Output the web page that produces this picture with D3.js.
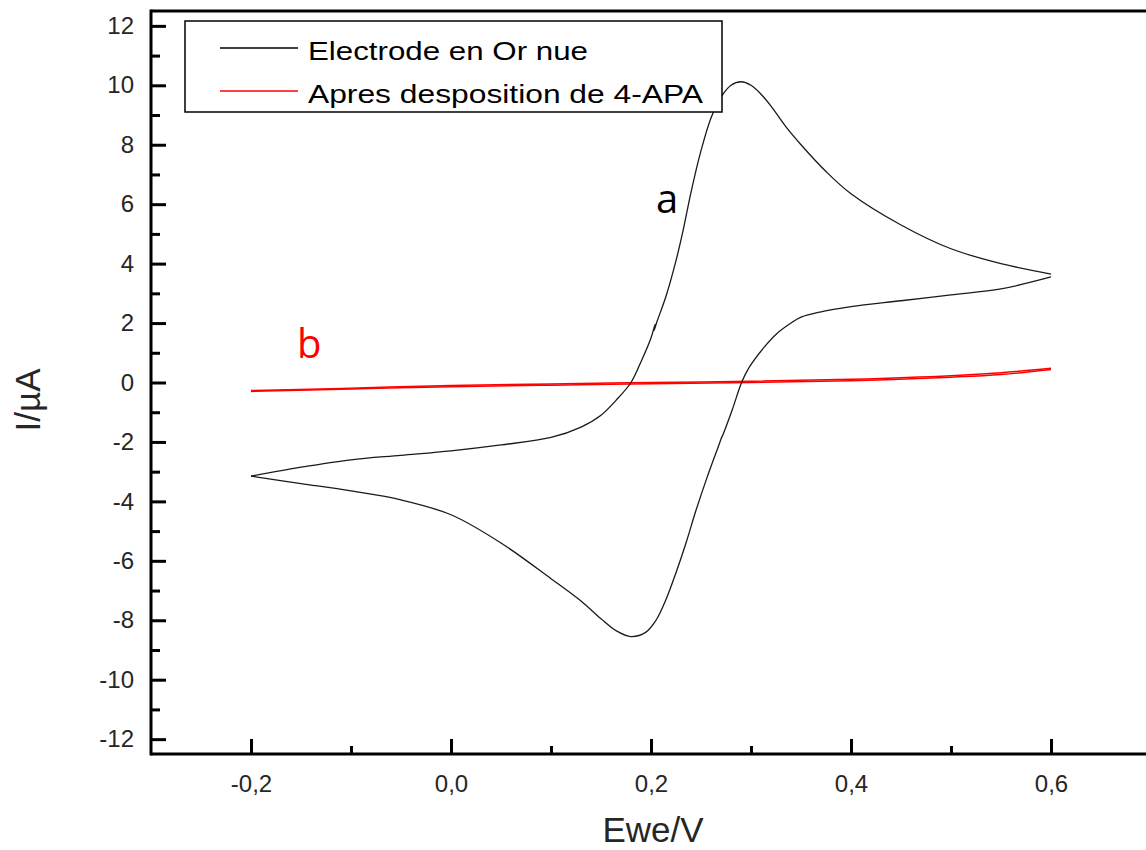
<!DOCTYPE html>
<html>
<head>
<meta charset="utf-8">
<script src="https://cdn.jsdelivr.net/npm/d3@7"></script>
<style>
  body { margin: 0; background: #fff; overflow: hidden; }
  svg { display: block; font-family: "Liberation Sans", Arial, sans-serif; }
</style>
</head>
<body>
<script>
// Cyclic voltammetry data (E in V, I in uA)
var goldFwdE = [-0.2, -0.15, -0.1, -0.05, 0.0, 0.05, 0.1, 0.13, 0.15, 0.165, 0.18, 0.19, 0.2, 0.204, 0.203, 0.206, 0.215, 0.225, 0.232, 0.24, 0.25, 0.26, 0.27, 0.28, 0.29, 0.3, 0.31, 0.32, 0.335, 0.35, 0.375, 0.4, 0.45, 0.5, 0.55, 0.6];
var goldFwdI = [-3.15, -2.85, -2.6, -2.45, -2.3, -2.1, -1.85, -1.5, -1.1, -0.6, 0.0, 0.7, 1.5, 1.95, 1.75, 2.05, 2.9, 4.1, 5.1, 6.4, 7.8, 8.9, 9.6, 10.0, 10.12, 10.0, 9.7, 9.3, 8.6, 8.0, 7.1, 6.35, 5.3, 4.5, 4.0, 3.65];
var goldRevE = [0.6, 0.55, 0.5, 0.45, 0.4, 0.37, 0.35, 0.34, 0.326, 0.313, 0.298, 0.291, 0.281, 0.272, 0.27, 0.269, 0.256, 0.245, 0.235, 0.225, 0.215, 0.205, 0.195, 0.18, 0.165, 0.15, 0.13, 0.1, 0.05, 0.0, -0.05, -0.1, -0.15, -0.2];
var goldRevI = [3.55, 3.15, 2.95, 2.75, 2.55, 2.38, 2.2, 2.0, 1.65, 1.18, 0.5, 0.03, -0.94, -1.75, -1.9, -2.0, -3.2, -4.3, -5.4, -6.4, -7.3, -8.0, -8.4, -8.55, -8.35, -7.95, -7.35, -6.6, -5.4, -4.45, -3.95, -3.65, -3.4, -3.15];

var apaFwdE = [-0.2, -0.1, 0.0, 0.1, 0.2, 0.3, 0.4, 0.5, 0.55, 0.6];
var apaFwdI = [-0.27, -0.19, -0.1, -0.05, 0.0, 0.04, 0.11, 0.23, 0.33, 0.48];
var apaRevE = [0.6, 0.55, 0.5, 0.4, 0.3, 0.2, 0.1, 0.0, -0.1, -0.2];
var apaRevI = [0.44, 0.27, 0.18, 0.06, 0.0, -0.04, -0.09, -0.14, -0.22, -0.3];

var yTicks = [-12, -10, -8, -6, -4, -2, 0, 2, 4, 6, 8, 10, 12];
var yMinor = [-11, -9, -7, -5, -3, -1, 1, 3, 5, 7, 9, 11];
var xTicks = [-0.2, 0.0, 0.2, 0.4, 0.6];
var xMinor = [-0.1, 0.1, 0.3, 0.5];

var legendLabels = ["Electrode en Or nue", "Apres desposition de 4-APA"];
var legendColors = ["#000000", "#ff0000"];

var width = 1146, height = 850;
var plotL = 151, plotT = 11, plotR = 1151, plotB = 754;

var svg = d3.select("body").append("svg")
    .attr("width", width)
    .attr("height", height);

var x = d3.scaleLinear().domain([-0.3, 0.7]).range([plotL, plotR]);
var y = d3.scaleLinear().domain([-12.5, 12.5]).range([plotB, plotT]);

// decimal comma and plain hyphen like the original
var fmtX = function(d) { return d3.format(".1f")(d).replace("−", "-").replace(".", ","); };
var fmtY = function(d) { return String(d); };

function zip(es, is) {
    return es.map(function(e, i) { return [e, is[i]]; });
}

var line = d3.line()
    .curve(d3.curveCatmullRom.alpha(0.5))
    .x(function(d) { return x(d[0]); })
    .y(function(d) { return y(d[1]); });

// curves
var curves = svg.append("g").attr("fill", "none").attr("stroke-linejoin", "round");

curves.append("path")
    .attr("d", line(zip(apaFwdE, apaFwdI)))
    .attr("stroke", "#ff0000")
    .attr("stroke-width", 1.5);
curves.append("path")
    .attr("d", line(zip(apaRevE, apaRevI)))
    .attr("stroke", "#ff0000")
    .attr("stroke-width", 1.5);

curves.append("path")
    .attr("d", line(zip(goldFwdE, goldFwdI)))
    .attr("stroke", "#1a1a1a")
    .attr("stroke-width", 1.3);
curves.append("path")
    .attr("d", line(zip(goldRevE, goldRevI)))
    .attr("stroke", "#1a1a1a")
    .attr("stroke-width", 1.3);

// frame: left, bottom and top (right side is off the picture in the original)
var frame = svg.append("g").attr("stroke", "#000").attr("stroke-width", 3);
frame.append("line").attr("x1", plotL).attr("x2", plotL).attr("y1", plotT - 1.5).attr("y2", plotB + 1.5);
frame.append("line").attr("x1", plotL).attr("x2", width).attr("y1", plotB).attr("y2", plotB);
frame.append("line").attr("x1", plotL).attr("x2", width).attr("y1", plotT).attr("y2", plotT);

// axes with inward ticks
svg.append("g")
    .attr("transform", "translate(" + plotL + ",0)")
    .call(d3.axisLeft(y).tickValues(yTicks).tickFormat(fmtY)
        .tickSizeInner(-15).tickSizeOuter(0).tickPadding(17));
svg.append("g")
    .attr("transform", "translate(" + plotL + ",0)")
    .call(d3.axisLeft(y).tickValues(yMinor).tickFormat("")
        .tickSizeInner(-9).tickSizeOuter(0));

svg.append("g")
    .attr("transform", "translate(0," + plotB + ")")
    .call(d3.axisBottom(x).tickValues(xTicks).tickFormat(fmtX)
        .tickSizeInner(-15).tickSizeOuter(0).tickPadding(21));
svg.append("g")
    .attr("transform", "translate(0," + plotB + ")")
    .call(d3.axisBottom(x).tickValues(xMinor).tickFormat("")
        .tickSizeInner(-8).tickSizeOuter(0));

svg.selectAll(".domain").remove();
svg.selectAll(".tick line").attr("stroke", "#000").attr("stroke-width", 3);
svg.selectAll(".tick text")
    .attr("fill", "#262626")
    .attr("font-family", "'Liberation Sans', Arial, sans-serif")
    .attr("font-size", 24);

// axis titles
svg.append("text")
    .attr("x", 653)
    .attr("y", 842)
    .attr("text-anchor", "middle")
    .attr("fill", "#262626")
    .style("font-size", "35px")
    .text("Ewe/V");

svg.append("text")
    .attr("transform", "translate(40,400) rotate(-90)")
    .attr("text-anchor", "middle")
    .attr("fill", "#262626")
    .style("font-size", "35px")
    .text("I/µA");

// curve labels
svg.append("text")
    .attr("x", 656)
    .attr("y", 213)
    .attr("fill", "#000")
    .style("font-family", "'Open Sans', sans-serif")
    .style("font-size", "40px")
    .text("a");

svg.append("text")
    .attr("x", 297)
    .attr("y", 358)
    .attr("fill", "#ff0000")
    .style("font-family", "'Open Sans', sans-serif")
    .style("font-size", "40px")
    .text("b");

// legend
var legend = svg.append("g");
legend.append("rect")
    .attr("x", 185)
    .attr("y", 21)
    .attr("width", 537)
    .attr("height", 91)
    .attr("fill", "#fff")
    .attr("stroke", "#000")
    .attr("stroke-width", 1.5);

var legendTextLen = [280, 395];
legendLabels.forEach(function(lab, i) {
    var ly = 48 + i * 43;
    legend.append("line")
        .attr("x1", 220).attr("x2", 298)
        .attr("y1", ly).attr("y2", ly)
        .attr("stroke", legendColors[i])
        .attr("stroke-width", 1.5);
    legend.append("text")
        .attr("x", 308)
        .attr("y", ly + 12)
        .attr("fill", "#000")
        .attr("textLength", legendTextLen[i])
        .attr("lengthAdjust", "spacingAndGlyphs")
        .style("font-size", "25px")
        .text(lab);
});
</script>
</body>
</html>
